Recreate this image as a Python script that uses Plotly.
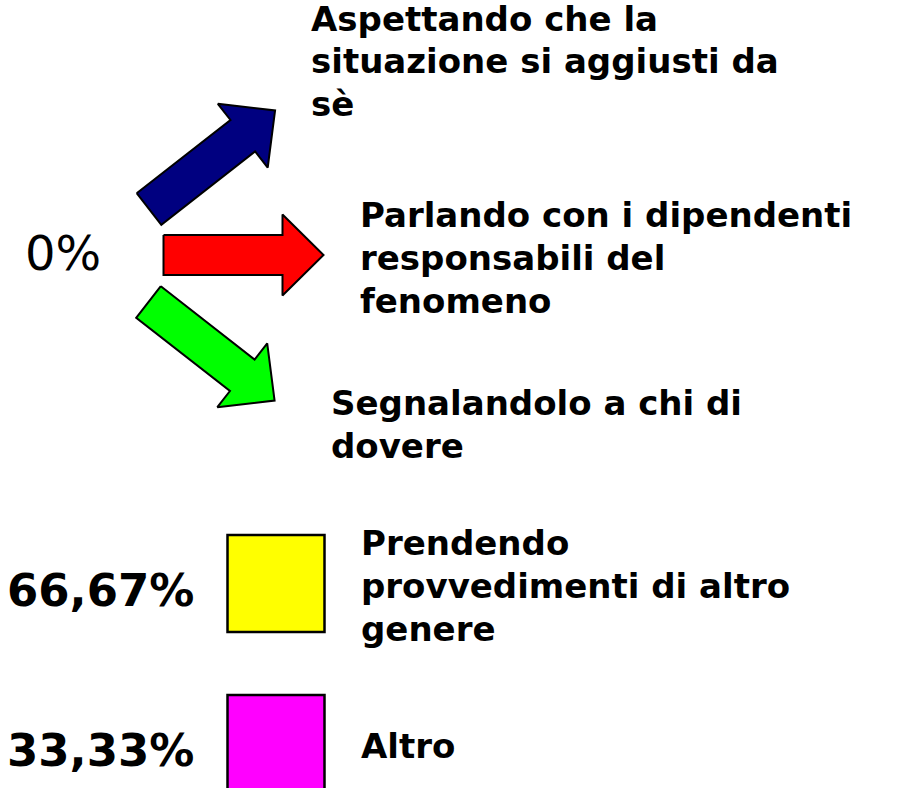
import math
import plotly.graph_objects as go

# Responses and their shares (percent)
categories = [
    "Aspettando che la<br>situazione si aggiusti da<br>sè",
    "Parlando con i dipendenti<br>responsabili del<br>fenomeno",
    "Segnalandolo a chi di<br>dovere",
    "Prendendo<br>provvedimenti di altro<br>genere",
    "Altro",
]
values = [0, 0, 0, 66.67, 33.33]

# Fill colours for each response glyph
colors = ["#000080", "#FF0000", "#00FF00", "#FFFF00", "#FF00FF"]

W, H = 915, 788
FONT = "DejaVu Sans"


def fmt_pct(v):
    if v == 0:
        return "0%"
    return f"{v:.2f}".replace(".", ",") + "%"


def arrow_polygon(cx, cy, angle_deg, length=160, shaft_w=40, head_w=81, head_len=41):
    """Block arrow starting at tail centre (cx, cy), pointing along angle (screen coords)."""
    a = math.radians(angle_deg)
    ca, sa = math.cos(a), math.sin(a)
    s, hw, L, hl = shaft_w / 2, head_w / 2, length, head_len
    local = [(0, -s), (L - hl, -s), (L - hl, -hw), (L, 0),
             (L - hl, hw), (L - hl, s), (0, s), (0, -s)]
    xs = [cx + u * ca - v * sa for u, v in local]
    ys = [cy + u * sa + v * ca for u, v in local]
    return xs, ys


fig = go.Figure()

# Three arrows (first three responses)
arrow_layout = [(149, 209, -38), (163.5, 255, 0), (148.5, 302, 38)]
for (cx, cy, ang), col in zip(arrow_layout, colors[:3]):
    xs, ys = arrow_polygon(cx, cy, ang)
    fig.add_trace(go.Scatter(
        x=xs, y=ys, mode="lines", fill="toself", fillcolor=col,
        line=dict(color="black", width=2), hoverinfo="skip", showlegend=False,
    ))

# Square swatches for the remaining responses
box_x0, box_x1 = 227.5, 324.5
box_tops = [535, 695]
box_size = 97
for top, col in zip(box_tops, colors[3:]):
    fig.add_shape(type="rect", xref="x", yref="y",
                  x0=box_x0, x1=box_x1, y0=top, y1=top + box_size,
                  fillcolor=col, line=dict(color="black", width=2.5), layer="above")

LABEL_SIZE = 34
LINE_STEP = 42.7
label_font = dict(family=FONT, size=LABEL_SIZE, color="black", weight="bold")

# Response labels: (left x, first baseline); each line placed on its own baseline
label_pos = [(310, 30.5), (359, 227), (330, 415), (360, 555), (360, 758)]
for (x, base), txt in zip(label_pos, categories):
    for i, line in enumerate(txt.split("<br>")):
        y = base + i * LINE_STEP - 0.35 * LABEL_SIZE
        fig.add_annotation(x=x, y=y, xref="x", yref="y", text=line, showarrow=False,
                           xanchor="left", yanchor="middle", align="left",
                           borderpad=0, font=label_font)

# Percentage labels
pct_font = dict(family=FONT, size=45, color="black", weight="bold")
fig.add_annotation(x=63, y=253, text=fmt_pct(values[0]), showarrow=False,
                   xanchor="center", yanchor="middle",
                   font=dict(family=FONT, size=48, color="black"))
for (x, y), v in zip([(100, 590), (100, 750)], values[3:]):
    fig.add_annotation(x=x, y=y, text=fmt_pct(v), showarrow=False,
                       xanchor="center", yanchor="middle", font=pct_font)

fig.update_layout(
    width=W, height=H, margin=dict(l=0, r=0, t=0, b=0),
    paper_bgcolor="white", plot_bgcolor="white",
    xaxis=dict(range=[0, W], visible=False, fixedrange=True),
    yaxis=dict(range=[H, 0], visible=False, fixedrange=True),
    showlegend=False,
)

fig.write_html("out.html")
